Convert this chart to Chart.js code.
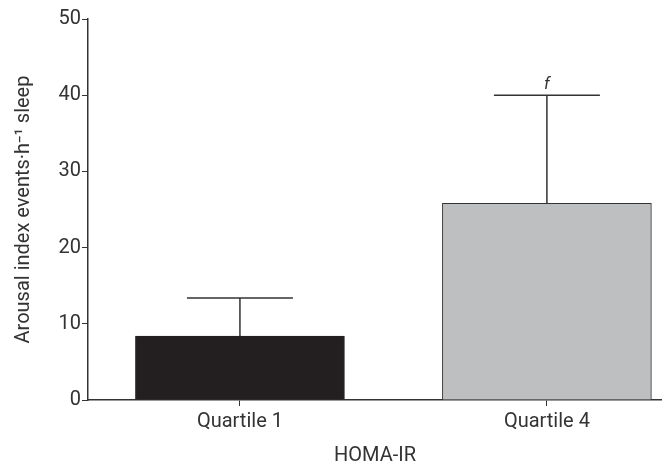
<!DOCTYPE html>
<html>
<head>
<meta charset="utf-8">
<script src="https://cdn.jsdelivr.net/npm/chart.js@4"></script>
<style>
  body { margin: 0; background: #fff; }
  #wrap { width: 662px; height: 465px; }
</style>
</head>
<body>
<div id="wrap"><canvas id="chart"></canvas></div>
<script>
const categories = ['Quartile 1', 'Quartile 4'];
const means = [8.4, 25.8];
const upperErr = [13.4, 40];
const marks = ['', 'f'];
const yTicks = [0, 10, 20, 30, 40, 50];

const ink = '#333333';
const fontFamily = 'Roboto, "Noto Sans", sans-serif';

// one-sided error bars plus the significance letter
const errorBars = {
    id: 'errorBars',
    afterDatasetsDraw(chart) {
        const { ctx, scales: { x, y } } = chart;
        ctx.save();
        ctx.strokeStyle = ink;
        ctx.lineWidth = 1.5;
        means.forEach((m, i) => {
            const px = x.getPixelForValue(i);
            const yBar = y.getPixelForValue(m);
            const yTop = y.getPixelForValue(upperErr[i]);
            ctx.beginPath();
            ctx.moveTo(px, yBar);
            ctx.lineTo(px, yTop);
            ctx.moveTo(px - 53, yTop);
            ctx.lineTo(px + 53, yTop);
            ctx.stroke();
            if (marks[i]) {
                ctx.fillStyle = ink;
                ctx.font = 'italic 17px ' + fontFamily;
                ctx.textAlign = 'center';
                ctx.textBaseline = 'bottom';
                ctx.fillText(marks[i], px, yTop - 2);
            }
        });
        ctx.restore();
    }
};

new Chart(document.getElementById('chart'), {
    type: 'bar',
    data: {
        datasets: [{
            data: means.map((v, i) => ({ x: i, y: v })),
            backgroundColor: ['#231f20', '#bebfc1'],
            borderColor: ['#231f20', '#333333'],
            borderWidth: 1,
            barThickness: 209
        }]
    },
    options: {
        responsive: true,
        maintainAspectRatio: false,
        animation: false,
        layout: { padding: { top: 19, right: 0, left: 0, bottom: 0 } },
        plugins: { legend: { display: false }, tooltip: { enabled: false } },
        scales: {
            x: {
                type: 'linear',
                offset: false,
                min: -0.495,
                max: 1.375,
                afterBuildTicks: scale => { scale.ticks = categories.map((c, i) => ({ value: i })); },
                afterFit: scale => { scale.height = 65; },
                grid: { offset: false, drawOnChartArea: false, drawTicks: true, tickLength: 6, color: ink },
                border: { display: true, color: ink, width: 1.5 },
                ticks: {
                    color: ink,
                    font: { family: fontFamily, size: 20 },
                    padding: 4,
                    callback: v => categories[v] ?? ''
                },
                title: {
                    display: true,
                    text: 'HOMA-IR',
                    color: ink,
                    font: { family: fontFamily, size: 20 },
                    padding: { top: 0, bottom: -3 }
                }
            },
            y: {
                min: 0,
                max: 50,
                afterBuildTicks: scale => { scale.ticks = yTicks.map(v => ({ value: v })); },
                afterFit: scale => { scale.width = 88; },
                grid: { drawOnChartArea: false, drawTicks: true, tickLength: 6, color: ink },
                border: { display: true, color: ink, width: 1.5 },
                ticks: {
                    color: ink,
                    font: { family: fontFamily, size: 20 },
                    padding: 1
                },
                title: {
                    display: true,
                    text: 'Arousal index events\u00b7h\u207b\u00b9 sleep',
                    color: ink,
                    font: { family: fontFamily, size: 20 },
                    padding: { top: 12, bottom: 4 }
                }
            }
        }
    },
    plugins: [errorBars]
});
</script>
</body>
</html>
